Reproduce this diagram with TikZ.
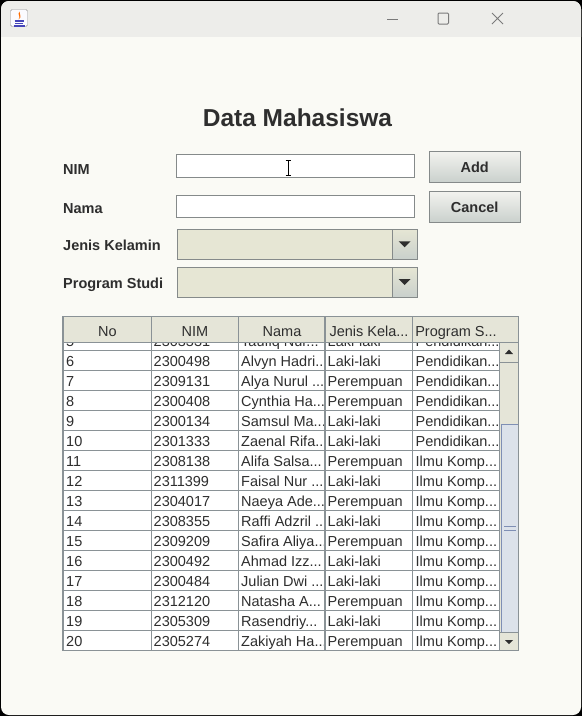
\documentclass[tikz,border=0pt]{standalone}
\usepackage{fontspec}
\setmainfont{Liberation Sans}
\usetikzlibrary{positioning}

\definecolor{winbg}{HTML}{FAFAF5}
\definecolor{titlebg}{HTML}{EDEDEA}
\definecolor{txt}{HTML}{2E2E2E}
\definecolor{fieldline}{HTML}{858A8A}
\definecolor{combofill}{HTML}{E6E6D4}
\definecolor{btntop}{HTML}{F3F3EF}
\definecolor{btnbot}{HTML}{C9D0CC}
\definecolor{gridline}{HTML}{8A9296}
\definecolor{headfill}{HTML}{E5E5D8}
\definecolor{thumbfill}{HTML}{DCE2EA}
\definecolor{thumbline}{HTML}{7F8FB4}
\definecolor{ctrl}{HTML}{7A7A7A}

\newcommand{\elp}{...}
\newcommand{\elq}{..}

\tikzset{
	lbl/.style={anchor=base west, inner sep=0pt, text=txt, font=\fontsize{14.5}{16}\selectfont\bfseries},
	cell/.style={anchor=base west, inner sep=0pt, text=txt, font=\fontsize{14.5}{16}\selectfont},
	headcell/.style={anchor=base, inner sep=0pt, text=txt, font=\fontsize{14.5}{16}\selectfont},
	field/.style={draw=fieldline, fill=white, line width=1pt, minimum width=238pt, minimum height=22.5pt, inner sep=0pt},
	combo/.style={draw=fieldline, fill=combofill, line width=1pt, minimum width=240pt, minimum height=30pt, inner sep=0pt},
	arrowbox/.style={draw=fieldline, top color=combofill, bottom color=btnbot, line width=1pt, minimum width=24.7pt, minimum height=30pt, inner sep=0pt},
	btn/.style={draw=fieldline, top color=btntop, bottom color=btnbot, line width=1pt, minimum width=90.7pt, minimum height=31.7pt, inner sep=0pt, text=txt, font=\fontsize{14.5}{16}\selectfont\bfseries},
	tri/.style={fill=txt}
}

\begin{document}
\begin{tikzpicture}[x=1pt, y=-1pt]
	\useasboundingbox (0,0) rectangle (582,716);
	\fill[black] (0,0) rectangle (582,716);
	\fill[winbg, rounded corners=8pt] (1,1) rectangle (581,715);
	\begin{scope}
		\clip[rounded corners=8pt] (1,1) rectangle (581,715);
		\fill[titlebg] (0,0) rectangle (582,37);
	\end{scope}

	\node[draw=ctrl!80, fill=white!85!blue!10, rounded corners=1.5pt, minimum size=17pt, inner sep=0pt] (icon) at (19,18) {};
	\fill[orange!85!red] (19.5,11.5) .. controls (16.5,14.5) and (21.5,16) .. (18.5,19.5) .. controls (22.5,17) and (19,14.5) .. (19.5,11.5);
	\draw[blue!45!gray, line width=1.1pt] (14.5,21) -- (23.5,21) (15,23.5) -- (23,23.5) (13.5,26) -- (24.5,26);
	\draw[ctrl, line width=1pt] (387,19) -- (398,19);
	\draw[ctrl, line width=1pt, rounded corners=1pt] (438,13) rectangle (448.5,24);
	\draw[ctrl, line width=1pt] (492,13) -- (503,24) (503,13) -- (492,24);

	\node[anchor=base, inner sep=0pt, text=txt, font=\fontsize{24.5}{28}\selectfont\bfseries] (title) at (297.5,126) {Data Mahasiswa};

	\node[lbl] (lblnim) at (63,174) {NIM};
	\node[lbl] (lblnama) at (63,213) {Nama};
	\node[lbl] (lbljk) at (63,250) {Jenis Kelamin};
	\node[lbl] (lblps) at (63,288) {Program Studi};

	\node[field] (nimfield) at (295.7,166.2) {};
	\node[field, below=16.7pt of nimfield] (namafield) {};
	\node[combo] (jkcombo) at (297,244.3) {};
	\node[combo, below=6.7pt of jkcombo] (pscombo) {};
	\node[arrowbox, anchor=east] (jkarrow) at (jkcombo.east) {};
	\node[arrowbox, anchor=east] (psarrow) at (pscombo.east) {};
	\foreach \c in {jkarrow, psarrow}
		\fill[tri] ([xshift=-6pt, yshift=3pt]\c.center) -- ([xshift=6pt, yshift=3pt]\c.center) -- ([yshift=-3pt]\c.center) -- cycle;

	\node[btn] (add) at (474.7,166.9) {Add};
	\node[btn, below=7.3pt of add] (cancel) {Cancel};

	\draw[black, line width=0.9pt] (285.5,160.5) -- (291,160.5) (288.3,160.5) -- (288.3,175.5) (285.5,175.5) -- (291,175.5);

	\fill[white] (63,342) rectangle (499,650);
	\begin{scope}
		\clip (63,342) rectangle (499,650);
		\foreach \no/\nim/\nama/\jk/\ps [count=\r from 0] in {
			5/2303331/Taufiq Nur\elp/Laki-laki/Pendidikan\elp,
			6/2300498/Alvyn Hadri\elp/Laki-laki/Pendidikan\elp,
			7/2309131/Alya Nurul \elp/Perempuan/Pendidikan\elp,
			8/2300408/Cynthia Ha\elp/Perempuan/Pendidikan\elp,
			9/2300134/Samsul Ma\elp/Laki-laki/Pendidikan\elp,
			10/2301333/Zaenal Rifa\elp/Laki-laki/Pendidikan\elp,
			11/2308138/Alifa Salsa\elp/Perempuan/Ilmu Komp\elp,
			12/2311399/Faisal Nur \elp/Laki-laki/Ilmu Komp\elp,
			13/2304017/Naeya Ade\elp/Perempuan/Ilmu Komp\elp,
			14/2308355/Raffi Adzril \elq/Laki-laki/Ilmu Komp\elp,
			15/2309209/Safira Aliya\elp/Perempuan/Ilmu Komp\elp,
			16/2300492/Ahmad Izz\elp/Laki-laki/Ilmu Komp\elp,
			17/2300484/Julian Dwi \elp/Laki-laki/Ilmu Komp\elp,
			18/2312120/Natasha A\elp/Perempuan/Ilmu Komp\elp,
			19/2305309/Rasendriy\elp/Laki-laki/Ilmu Komp\elp,
			20/2305274/Zakiyah Ha\elp/Perempuan/Ilmu Komp\elp}
		{
			\node[cell] (no\r) at (66,{346+20*\r}) {\no};
			\node[cell] (nim\r) at (153.5,{346+20*\r}) {\nim};
			\node[cell] (nama\r) at (241,{346+20*\r}) {\nama};
			\node[cell] (jk\r) at (327.5,{346+20*\r}) {\jk};
			\node[cell] (ps\r) at (415.5,{346+20*\r}) {\ps};
		}
		\foreach \y in {350,370,...,630}
			\draw[gridline, line width=1pt] (63,\y) -- (499,\y);
	\end{scope}

	\fill[headfill] (63,316) rectangle (518.5,342);
	\node[headcell] (hno) at (107.5,336) {No};
	\node[headcell] (hnim) at (195,336) {NIM};
	\node[headcell] (hnama) at (282,336) {Nama};
	\node[headcell] (hjk) at (369,336) {Jenis Kela\elp};
	\node[headcell] (hps) at (456,336) {Program S\elp};
	\draw[gridline, line width=1pt] (63,342) -- (499,342);
	\foreach \x in {151.7,238.3,325,412.7}
		\draw[gridline, line width=1pt] (\x,316) -- (\x,650);
	\draw[gridline, line width=1.2pt] (325,316) -- (325,650);

	\fill[headfill] (499,342) rectangle (518.5,650);
	\draw[gridline, line width=0.8pt] (499,342) -- (518.5,342) (499,362) -- (518.5,362) (499,632) -- (518.5,632);
	\fill[tri] (505,354) -- (513,354) -- (509,349.5) -- cycle;
	\fill[tri] (505,640) -- (513,640) -- (509,644) -- cycle;
	\fill[thumbfill] (500.5,424) rectangle (518.5,632);
	\draw[thumbline, line width=1pt] (501,424) -- (501,632) (500.5,424) -- (518.5,424);
	\draw[thumbline, line width=1pt] (504,526.5) -- (516,526.5) (504,530) -- (516,530);
	\draw[gridline, line width=1.8pt] (499.5,342) -- (499.5,651);

	\draw[gridline, line width=1.4pt] (63,316.5) rectangle (518.7,650.5);
\end{tikzpicture}
\end{document}
